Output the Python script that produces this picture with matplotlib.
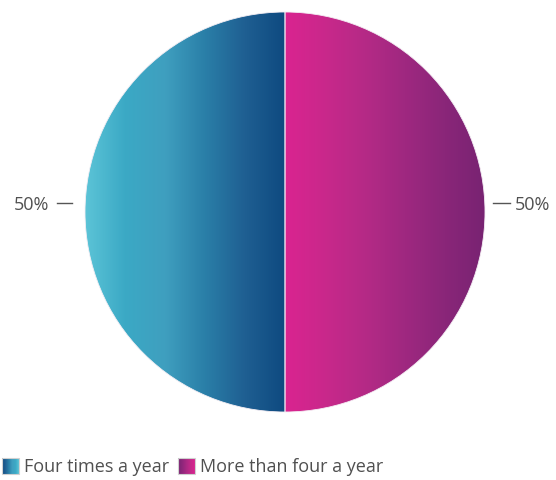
import numpy as np
import matplotlib.pyplot as plt
from matplotlib.colors import LinearSegmentedColormap
from matplotlib.patches import Rectangle

plt.rcParams['font.family'] = ['Open Sans', 'DejaVu Sans']

labels = ["Four times a year", "More than four a year"]
values = [50, 50]
pct_labels = ["50%", "50%"]

blue_stops = ["#5cc4d7", "#3ba9c5", "#3f9fbf", "#2a7fa8", "#1f5f92", "#0e4a80"]
pink_stops = ["#da2490", "#c9288b", "#b52a86", "#9f2880", "#8a2679", "#782372"]

cmaps = [LinearSegmentedColormap.from_list("b", blue_stops),
         LinearSegmentedColormap.from_list("p", pink_stops)]

W, H = 556, 480
fig = plt.figure(figsize=(W / 100, H / 100), dpi=100)

cx, cy, R = 285, 212, 200
ax = fig.add_axes([(cx - R) / W, (H - cy - R) / H, 2 * R / W, 2 * R / H])
wedges, _ = ax.pie(values, startangle=90, counterclock=True, radius=1,
                   colors=[c(0.5) for c in cmaps],
                   wedgeprops=dict(edgecolor='#f4eef4', linewidth=0.6))
grad = np.linspace(0, 1, 256).reshape(1, -1)
for w, cm in zip(wedges, cmaps):
    ext = w.get_path().get_extents()
    im = ax.imshow(grad, cmap=cm, aspect='auto',
                   extent=[ext.x0, ext.x1, ext.y0, ext.y1], zorder=w.get_zorder() + 0.1)
    im.set_clip_path(w)
    w.set_facecolor('none')
    w.set_zorder(w.get_zorder() + 0.2)
ax.set_xlim(-1, 1)
ax.set_ylim(-1, 1)
ax.axis('off')

def px(x):
    return (x - cx) / R

def py(y):
    return (cy - y) / R

txt_color = '#505050'
fs = 13
# left label
ax.plot([px(57), px(72)], [py(203), py(203)], color='#555555', lw=1, clip_on=False)
ax.text(px(49), py(205), pct_labels[0], ha='right', va='center', fontsize=fs,
        color=txt_color, clip_on=False)
# right label
ax.plot([px(493), px(510)], [py(203), py(203)], color='#555555', lw=1, clip_on=False)
ax.text(px(515), py(205), pct_labels[1], ha='left', va='center', fontsize=fs,
        color=txt_color, clip_on=False)

# legend
lax = fig.add_axes([0, 0, 1, 1])
lax.set_xlim(0, W)
lax.set_ylim(H, 0)
lax.axis('off')
leg_items = [(2, 24), (178, 200)]
for (sx, tx), lab, cm in zip(leg_items, labels, cmaps):
    lax.imshow(grad[:, ::-1], cmap=cm, aspect='auto', extent=[sx, sx + 17, 474, 458])
    lax.add_patch(Rectangle((sx, 458), 17, 16, fill=False, edgecolor='#d0d0d0', lw=0.8))
    lax.text(tx, 467, lab, ha='left', va='center', fontsize=fs, color=txt_color)
lax.set_xlim(0, W)
lax.set_ylim(H, 0)

fig.savefig('out.png', dpi=100)
